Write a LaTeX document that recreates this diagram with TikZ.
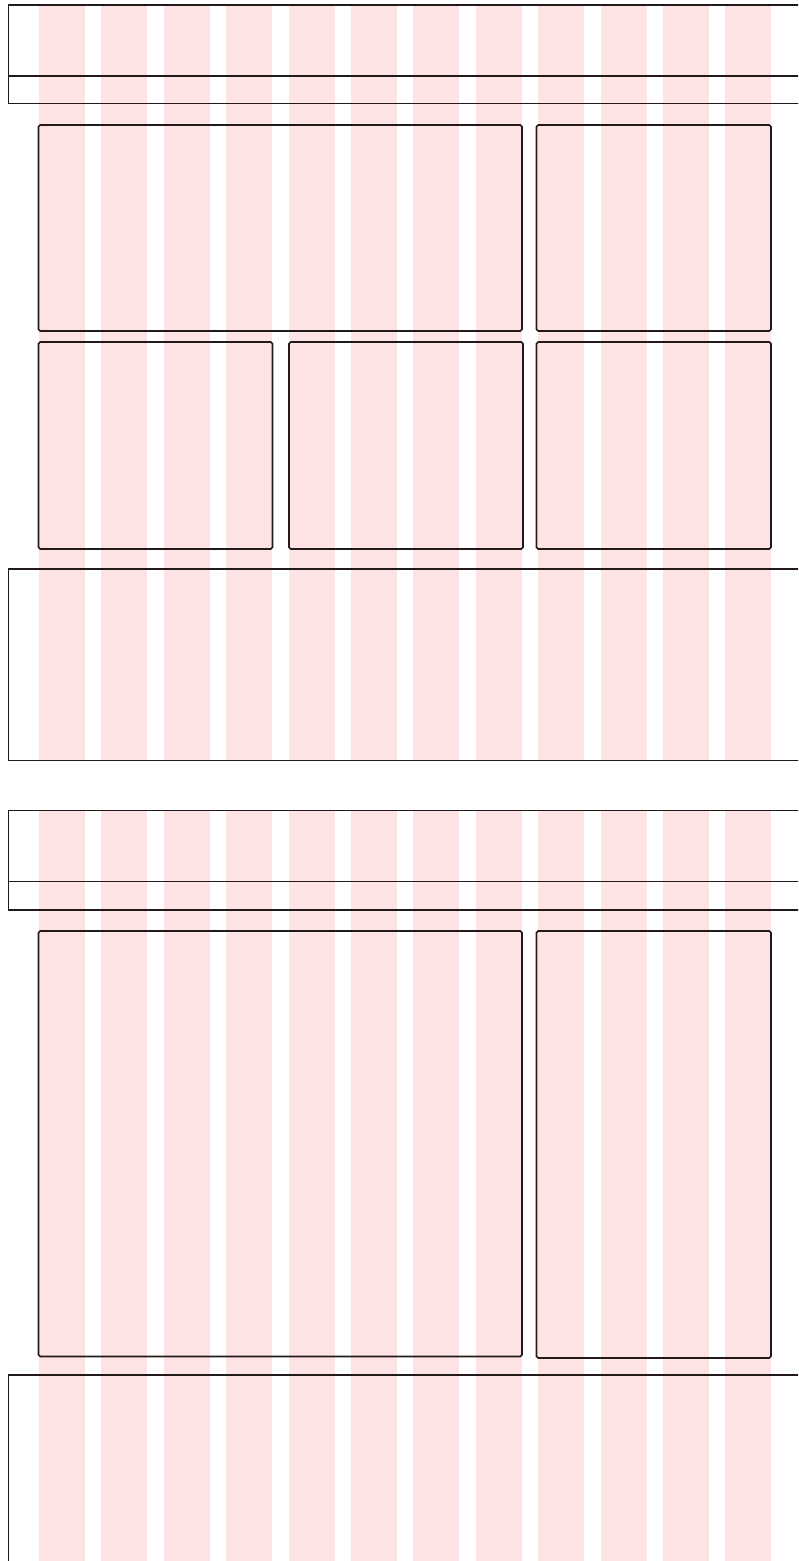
\documentclass[tikz,border=0pt]{standalone}
\usepackage{xcolor}
\definecolor{GridPink}{HTML}{FDE3E4}
\definecolor{LineDark}{HTML}{221A1A}
\usepackage{tikz}
\usetikzlibrary{calc}

\begin{document}
\begin{tikzpicture}[
  x=0.02cm, y=-0.02cm,
  gridcol/.style = {fill=GridPink, draw=none},
  band/.style    = {draw=LineDark, line width=0.9pt},
  panel/.style   = {draw=LineDark, line width=0.9pt, rounded corners=1pt}
]

  % page
  \useasboundingbox (0,0) rectangle (798,1561);
  \clip (0,0) rectangle (798,1561);

  % grid columns, two sections
  \foreach \i in {0,...,11} {
    \fill[gridcol] ({39+62.4*\i},5) rectangle ({85+62.4*\i},760);
    \fill[gridcol] ({39+62.4*\i},811) rectangle ({85+62.4*\i},1561);
  }

  % first layout: header + nav
  \draw[band] (8.5,5) rectangle (810,103.5);
  \draw[band] (8.5,76) -- (810,76);

  % first layout: panels
  \draw[panel] (38.5,125) rectangle (522,331);
  \draw[panel] (536.5,125) rectangle (771,331);
  \draw[panel] (38.5,342) rectangle (272.5,549);
  \draw[panel] (289,342) rectangle (523,549);
  \draw[panel] (536.5,342) rectangle (771,549);

  % first layout: footer
  \draw[band] (8.5,569) rectangle (810,760.5);

  % second layout: header + nav
  \draw[band] (8.5,810.7) rectangle (810,910);
  \draw[band] (8.5,881.5) -- (810,881.5);

  % second layout: panels
  \draw[panel] (38.5,931) rectangle (522,1356.5);
  \draw[panel] (536.5,931) rectangle (771,1358);

  % second layout: footer
  \draw[band] (8.5,1375) rectangle (810,1580);

\end{tikzpicture}
\end{document}
